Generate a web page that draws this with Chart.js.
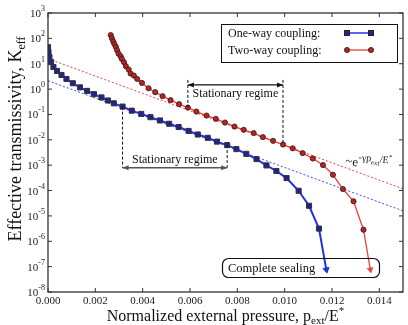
<!DOCTYPE html>
<html><head><meta charset="utf-8">
<script src="https://cdn.jsdelivr.net/npm/chart.js@4.4.1/dist/chart.umd.min.js"></script>
<style>html,body{margin:0;padding:0;background:#fff}#wrap{width:408px;height:325px}</style>
</head><body><div id="wrap"><canvas id="c" width="408" height="325"></canvas></div>
<script>
// ---- data ----
const oneWayX = [0,0.00002,0.00006,0.00013,0.00023,0.00038,0.00057,0.00078,0.00105,0.00135,
  0.00165,0.00194,0.00226,0.00253,0.00278,0.00315,0.00354,0.00394,0.00433,0.00473,
  0.00512,0.00552,0.00594,0.00633,0.00675,0.00714,0.00757,0.00796,0.00838,0.00881,
  0.00923,0.00965,0.01008,0.01059,0.01103,0.01145,0.01176];
const oneWayK = [45,29,18.6,11.7,7.4,5.2,3.6,2.5,1.7,1.17,
  0.85,0.63,0.47,0.355,0.275,0.204,0.141,0.105,0.078,0.058,
  0.043,0.032,0.0224,0.0162,0.012,0.0085,0.0062,0.0043,0.0028,0.00174,
  0.00098,0.00059,0.00031,0.000098,0.0000251,0.00000316,7.6e-8];
const twoWayX = [0.00265,0.0027,0.00276,0.00281,0.00287,0.00292,0.00298,0.00307,0.00312,0.00321,
  0.00329,0.00341,0.00349,0.00363,0.00377,0.00397,0.00425,0.00453,0.00484,0.00518,
  0.00554,0.00591,0.00627,0.0067,0.00709,0.00748,0.00788,0.00827,0.00869,0.00908,
  0.00951,0.00993,0.01034,0.01076,0.01119,0.01162,0.01204,0.01246,0.01291,0.01333,0.01362];
const twoWayK = [136,101,74,58.6,45.8,34,25,19.7,15.5,11.5,
  8.0,5.9,4.1,3.4,2.5,1.75,1.08,0.755,0.525,0.366,
  0.255,0.187,0.13,0.0906,0.0671,0.048,0.0334,0.0248,0.0184,0.0128,
  0.00914,0.00653,0.00462,0.00299,0.00184,0.00101,0.000419,0.000115,0.0000379,0.00000286,7.6e-8];
const fitX = [0, 0.015];
const oneWayFitK = [2.14, 1.58e-5];
const twoWayFitK = [15.8, 1.17e-4];
const xTicks = [0,0.002,0.004,0.006,0.008,0.010,0.012,0.014];
const xTickLabels = ["0.000","0.002","0.004","0.006","0.008","0.010","0.012","0.014"];
const yExponents = [3,2,1,0,-1,-2,-3,-4,-5,-6,-7,-8];
const regimeTwoWayIdx = [21, 31];   // stationary regime bounds (two-way)
const regimeOneWayIdx = [15, 26];   // stationary regime bounds (one-way)
const regimeTwoWayTopK = 2.3, regimeTwoWayArrowK = 1.46;
const regimeOneWayArrowK = 7.9e-4;
const legendLabels = ["One-way coupling:", "Two-way coupling:"];

const FONT = '"Liberation Serif", "Times New Roman", serif';
const BLUE = '#2233dd', BLUE_M = '#23238f', RED = '#e8403c', RED_M = '#c01f1f';

function pts(xs, ys){ return xs.map((x,i)=>({x:x, y:ys[i]})); }
function styleArr(n, normal, last){ return Array.from({length:n}, (_,i)=> i===n-1 ? last : normal); }

function drawRich(ctx, x, y, parts, align){
  let w = 0;
  parts.forEach(p=>{ ctx.font = p.s + 'px ' + FONT; p.w = ctx.measureText(p.t).width; w += p.w; });
  let cx = align==='center' ? x - w/2 : (align==='right' ? x - w : x);
  ctx.textAlign = 'left'; ctx.textBaseline = 'alphabetic';
  parts.forEach(p=>{ ctx.font = p.s + 'px ' + FONT; ctx.fillText(p.t, cx, y + (p.dy||0)); cx += p.w; });
  return w;
}
function arrowHead(ctx, x, y, dir){ // dir: -1 pointing left, 1 pointing right
  ctx.beginPath(); ctx.moveTo(x, y); ctx.lineTo(x - dir*6, y - 2.5); ctx.lineTo(x - dir*6, y + 2.5); ctx.closePath(); ctx.fill();
}

const decor = {
  id: 'decor',
  afterDraw(chart){
    const ctx = chart.ctx, a = chart.chartArea, xs = chart.scales.x, ys = chart.scales.y;
    ctx.save();
    // frame
    ctx.strokeStyle = '#333'; ctx.lineWidth = 1.3;
    ctx.strokeRect(a.left, a.top, a.right - a.left, a.bottom - a.top);
    // x ticks
    ctx.lineWidth = 1; ctx.fillStyle = '#222';
    ctx.font = '11px ' + FONT; ctx.textAlign = 'center'; ctx.textBaseline = 'top';
    xTicks.forEach((v,i)=>{
      const px = xs.getPixelForValue(v);
      ctx.beginPath(); ctx.moveTo(px, a.bottom); ctx.lineTo(px, a.bottom-4);
      ctx.moveTo(px, a.top); ctx.lineTo(px, a.top+4); ctx.stroke();
      ctx.fillText(xTickLabels[i], px, a.bottom + 4);
    });
    // y ticks
    yExponents.forEach(e=>{
      const py = ys.getPixelForValue(Math.pow(10, e));
      ctx.beginPath(); ctx.moveTo(a.left, py); ctx.lineTo(a.left+4, py);
      ctx.moveTo(a.right, py); ctx.lineTo(a.right-4, py); ctx.stroke();
      drawRich(ctx, a.left - 3, py + 4, [{t:'10', s:11}, {t:String(e), s:8, dy:-6}], 'right');
    });
    // axis titles
    ctx.fillStyle = '#111';
    drawRich(ctx, (a.left + a.right)/2, 321, [
      {t:'Normalized external pressure, p', s:16}, {t:'ext', s:11, dy:3},
      {t:'/E', s:16}, {t:'*', s:11, dy:-7}], 'center');
    ctx.save(); ctx.translate(21, 139); ctx.rotate(-Math.PI/2);
    drawRich(ctx, 0, 0, [{t:'Effective transmissivity, K', s:18}, {t:'eff', s:12, dy:4}], 'center');
    ctx.restore();

    // legend
    ctx.strokeStyle = '#111'; ctx.lineWidth = 1;
    ctx.strokeRect(221.5, 24.5, 176, 38);
    ctx.fillStyle = '#111';
    drawRich(ctx, 228, 37, [{t:legendLabels[0], s:12}], 'left');
    drawRich(ctx, 228, 54, [{t:legendLabels[1], s:12}], 'left');
    ctx.strokeStyle = BLUE; ctx.lineWidth = 1.5;
    ctx.beginPath(); ctx.moveTo(347, 33); ctx.lineTo(371, 33); ctx.stroke();
    ctx.fillStyle = BLUE_M; ctx.strokeStyle = '#222'; ctx.lineWidth = 1;
    [347, 371].forEach(x=>{ ctx.fillRect(x-2.5, 30.5, 5, 5); ctx.strokeRect(x-2.5, 30.5, 5, 5); });
    ctx.strokeStyle = RED; ctx.lineWidth = 1.3;
    ctx.beginPath(); ctx.moveTo(347, 50); ctx.lineTo(371, 50); ctx.stroke();
    ctx.fillStyle = RED_M; ctx.strokeStyle = '#222'; ctx.lineWidth = 0.8;
    [347, 371].forEach(x=>{ ctx.beginPath(); ctx.arc(x, 50, 2.6, 0, Math.PI*2); ctx.fill(); ctx.stroke(); });

    // stationary regime (two-way)
    ctx.strokeStyle = '#111'; ctx.fillStyle = '#111'; ctx.lineWidth = 1;
    ctx.setLineDash([3,2]);
    const uTop = ys.getPixelForValue(regimeTwoWayTopK);
    const uArrow = ys.getPixelForValue(regimeTwoWayArrowK);
    const uL = xs.getPixelForValue(twoWayX[regimeTwoWayIdx[0]]), uR = xs.getPixelForValue(twoWayX[regimeTwoWayIdx[1]]);
    ctx.beginPath();
    ctx.moveTo(uL, uTop); ctx.lineTo(uL, ys.getPixelForValue(twoWayK[regimeTwoWayIdx[0]]));
    ctx.moveTo(uR, uTop); ctx.lineTo(uR, ys.getPixelForValue(twoWayK[regimeTwoWayIdx[1]]));
    // one-way
    const lArrow = ys.getPixelForValue(regimeOneWayArrowK);
    const lL = xs.getPixelForValue(oneWayX[regimeOneWayIdx[0]]), lR = xs.getPixelForValue(oneWayX[regimeOneWayIdx[1]]);
    ctx.moveTo(lL, ys.getPixelForValue(oneWayK[regimeOneWayIdx[0]])); ctx.lineTo(lL, lArrow);
    ctx.moveTo(lR, ys.getPixelForValue(oneWayK[regimeOneWayIdx[1]])); ctx.lineTo(lR, lArrow);
    ctx.stroke(); ctx.setLineDash([]);
    ctx.lineWidth = 1.2;
    ctx.beginPath(); ctx.moveTo(uL, uArrow); ctx.lineTo(uR, uArrow); ctx.stroke();
    arrowHead(ctx, uL, uArrow, -1); arrowHead(ctx, uR, uArrow, 1);
    ctx.strokeStyle = '#555'; ctx.fillStyle = '#555'; ctx.lineWidth = 1.5;
    ctx.beginPath(); ctx.moveTo(lL, lArrow); ctx.lineTo(lR, lArrow); ctx.stroke();
    arrowHead(ctx, lL, lArrow, -1); arrowHead(ctx, lR, lArrow, 1);
    ctx.fillStyle = '#111';
    drawRich(ctx, (uL+uR)/2, uArrow + 12, [{t:'Stationary regime', s:12}], 'center');
    drawRich(ctx, (lL+lR)/2, lArrow - 5, [{t:'Stationary regime', s:12}], 'center');

    // exponential fit label
    ctx.fillStyle = '#222';
    ctx.save(); ctx.translate(345, 165); ctx.rotate(0.1);
    drawRich(ctx, 0, 0, [{t:'~e', s:13}, {t:'-γp', s:10, dy:-6}, {t:'ext', s:7, dy:-3},
      {t:'/E', s:10, dy:-6}, {t:'*', s:7, dy:-10}], 'left');
    ctx.restore();

    // complete sealing box
    ctx.strokeStyle = '#111'; ctx.lineWidth = 1.2;
    ctx.beginPath(); ctx.roundRect(222.5, 258.5, 157, 19, 6); ctx.stroke();
    ctx.fillStyle = '#111';
    drawRich(ctx, 228, 272, [{t:'Complete sealing', s:12.5}], 'left');
    ctx.restore();
  }
};

new Chart(document.getElementById('c'), {
  type: 'line',
  data: { datasets: [
    { data: pts(oneWayX, oneWayK), borderColor: BLUE, borderWidth: 2, tension: 0,
      pointStyle: styleArr(oneWayX.length, 'rect', 'triangle'),
      pointRotation: styleArr(oneWayX.length, 0, 170),
      pointRadius: styleArr(oneWayX.length, 3.6, 3.5),
      pointBackgroundColor: styleArr(oneWayX.length, BLUE_M, BLUE),
      pointBorderColor: styleArr(oneWayX.length, '#333', BLUE), pointBorderWidth: 1 },
    { data: pts(twoWayX, twoWayK), borderColor: RED, borderWidth: 1.3, tension: 0,
      pointStyle: styleArr(twoWayX.length, 'circle', 'triangle'),
      pointRotation: styleArr(twoWayX.length, 0, 170),
      pointRadius: styleArr(twoWayX.length, 2.6, 3.2),
      pointBackgroundColor: styleArr(twoWayX.length, RED_M, RED),
      pointBorderColor: styleArr(twoWayX.length, '#222', RED), pointBorderWidth: 0.8 },
    { data: pts(fitX, twoWayFitK), borderColor: RED, borderWidth: 1, borderDash: [2,2], pointRadius: 0 },
    { data: pts(fitX, oneWayFitK), borderColor: '#4444ee', borderWidth: 1, borderDash: [2,2], pointRadius: 0 }
  ]},
  options: {
    responsive: false, animation: false, devicePixelRatio: 1,
    layout: { padding: { left: 48, right: 3, top: 13, bottom: 33 } },
    plugins: { legend: { display: false }, tooltip: { enabled: false } },
    scales: {
      x: { type: 'linear', min: 0, max: 0.015, display: false },
      y: { type: 'logarithmic', min: 1e-8, max: 1e3, display: false }
    }
  },
  plugins: [decor]
});
</script>
</body></html>
